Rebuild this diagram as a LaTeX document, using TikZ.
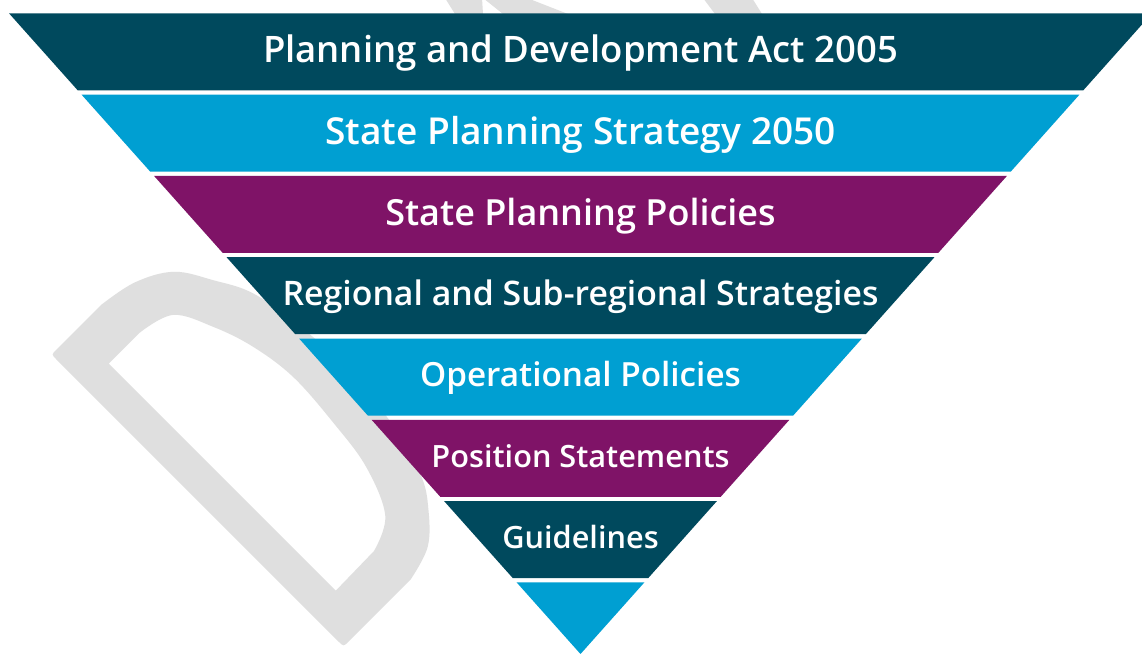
\documentclass[tikz,border=0pt]{standalone}
\usepackage{fontspec}
% semibold face when available, bold otherwise
\IfFontExistsTF{Open Sans Semibold}
  {\newfontfamily\bandfont{Open Sans Semibold}\newcommand\bandweight{}}
  {\IfFontExistsTF{OpenSans-SemiBold}
    {\newfontfamily\bandfont{OpenSans-SemiBold}\newcommand\bandweight{}}
    {\newfontfamily\bandfont{Open Sans}\newcommand\bandweight{\bfseries}}}
\definecolor{deepteal}{RGB}{0,73,93}
\definecolor{skyblue}{RGB}{0,159,210}
\definecolor{plum}{RGB}{127,19,103}
\definecolor{wmgrey}{RGB}{223,223,223}
\begin{document}
\begin{tikzpicture}[x=1pt,y=-1pt,
  bandlabel/.style={text=white, font=\bandfont\bandweight\fontsize{#1}{40}\selectfont,
    anchor=base, inner sep=0pt},
  wm/.style={fill=wmgrey}]
\clip (0,0) rectangle (1142,653);
\fill[white] (0,0) rectangle (1142,653);

% faint watermark letter behind the funnel
\begin{scope}[shift={(340,643)}]
 \begin{scope}[rotate=45,y=1pt]
  \fill[wm,even odd rule]
    plot[smooth,tension=0.6] coordinates {(95,-5)(130,6)(157,32)(176,62)(192,120)(198,190)(196,250)(186,308)(167,346)(145,380)(110,400)(70,408)}
    -- (7,408) .. controls (0,408) .. (0,401) -- (0,2) .. controls (0,-5) .. (7,-5) -- cycle
    (34,40) -- (34,361) --
    plot[smooth,tension=0.6] coordinates {(78,361)(114,350)(134,313)(148,271)(155,221)(151,160)(143,106)(122,58)(89,41)}
    -- cycle;
 \end{scope}
\end{scope}
% fragments of further watermark letters above the funnel
\fill[wm] (445,-2) -- (482,-2) -- (483,14) -- (455,14) -- cycle;
\fill[wm] (483,-2) -- (527,-2) -- (568,14) -- (503,14) -- cycle;
\fill[wm] (703,-2) -- (752,-2) -- (762,14) -- (715,14) -- cycle;

% funnel bands: top edge t, height 77, side slope 0.892
\foreach \i/\col in {0/deepteal,1/skyblue,2/plum,3/deepteal,4/skyblue,5/plum,6/deepteal,7/skyblue}{
  \pgfmathsetmacro{\t}{13.3+81.3*\i}
  \pgfmathsetmacro{\b}{min(\t+77,654)}
  \pgfmathsetmacro{\wt}{571.5-0.892*(\t-13.3)}
  \pgfmathsetmacro{\wb}{max(571.5-0.892*(\b-13.3),0)}
  \fill[\col] (580.5-\wt,\t) -- (580.5+\wt,\t) -- (580.5+\wb,\b) -- (580.5-\wb,\b) -- cycle;
}

\node[bandlabel=36.5] (l1) at (580.5,62.8) {Planning and Development Act 2005};
\node[bandlabel=37.1] (l2) at (580.5,144.3) {State Planning Strategy 2050};
\node[bandlabel=36.0] (l3) at (580.5,225.3) {State Planning Policies};
\node[bandlabel=33.8] (l4) at (580.5,305.8) {Regional and Sub-regional Strategies};
\node[bandlabel=33.3] (l5) at (580.5,386.9) {Operational Policies};
\node[bandlabel=30.7] (l6) at (580.5,467.3) {Position Statements};
\node[bandlabel=30.7] (l7) at (580.5,548.6) {Guidelines};
\end{tikzpicture}
\end{document}
